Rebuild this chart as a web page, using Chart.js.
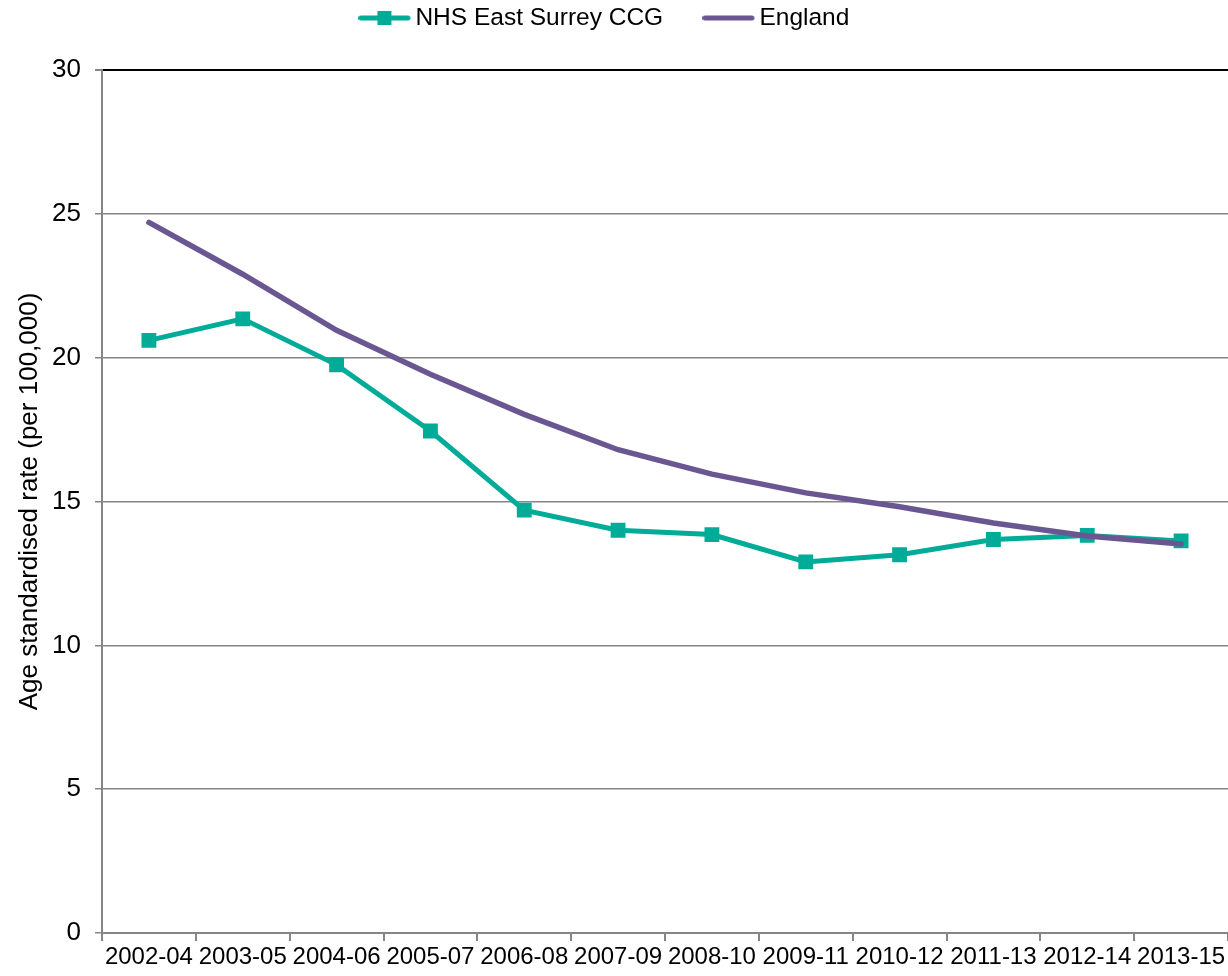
<!DOCTYPE html>
<html>
<head>
<meta charset="utf-8">
<script src="https://cdn.jsdelivr.net/npm/chart.js@4"></script>
<style>
  html, body { margin: 0; padding: 0; background: #fff; }
  #wrap { width: 1228px; height: 976px; }
</style>
</head>
<body>
<div id="wrap"><canvas id="rateChart" width="1228" height="976"></canvas></div>
<script>
// --- Data ---
const periods = ['2002-04', '2003-05', '2004-06', '2005-07', '2006-08', '2007-09',
                 '2008-10', '2009-11', '2010-12', '2011-13', '2012-14', '2013-15'];
const eastSurrey = [20.6, 21.35, 19.75, 17.45, 14.7, 14.0, 13.85, 12.9, 13.15, 13.68, 13.82, 13.63];
const england = [24.7, 22.9, 20.95, 19.42, 18.03, 16.8, 15.95, 15.3, 14.82, 14.25, 13.8, 13.52];
const yTicks = [0, 5, 10, 15, 20, 25, 30];

const TEAL = '#00AC98';
const PURPLE = '#6A5792';
const AXIS_GREY = '#868686';
const FONT = 'Liberation Sans, Arial, sans-serif';

// legend spacing: the wide padding gives the gap between the two entries,
// the negative top padding pulls the legend back up to the top edge
const LEGEND_BOX = 24.5;
const LEGEND_PAD = 59.5;
const TOP_SHIFT = LEGEND_PAD - 5.75;

// --- Legend markers (line, with square for the CCG series) ---
// 65px image drawn centred on the box; marker sits in its left 52px
function legendMarker(color, withSquare) {
    const c = document.createElement('canvas');
    c.width = 65; c.height = 16;
    const ctx = c.getContext('2d');
    ctx.strokeStyle = color;
    ctx.lineWidth = 5;
    ctx.lineCap = 'round';
    ctx.beginPath();
    ctx.moveTo(2.5, 8); ctx.lineTo(49.5, 8);
    ctx.stroke();
    if (withSquare) {
        ctx.fillStyle = color;
        ctx.fillRect(19, 1, 14, 14);
    }
    return c;
}
const markerCcg = legendMarker(TEAL, true);
const markerEng = legendMarker(PURPLE, false);

// --- Fixed legend height so the plot area starts at y=70 ---
const legendHeight = {
    id: 'legendHeight',
    beforeLayout(chart) {
        const lg = chart.legend;
        if (lg && !lg._fixed) {
            const orig = lg.fit;
            lg.fit = function () { orig.call(this); this.height = 70 + TOP_SHIFT; };
            lg._fixed = true;
        }
    }
};

new Chart(document.getElementById('rateChart').getContext('2d'), {
    type: 'line',
    data: {
        labels: periods,
        datasets: [
            {
                label: 'NHS East Surrey CCG',
                data: eastSurrey,
                borderColor: TEAL,
                backgroundColor: TEAL,
                borderWidth: 5,
                pointStyle: 'rect',
                pointRadius: 10.5,
                pointBorderWidth: 0,
                pointBackgroundColor: TEAL,
                tension: 0,
                order: 2
            },
            {
                label: 'England',
                data: england,
                borderColor: PURPLE,
                backgroundColor: PURPLE,
                borderWidth: 5.5,
                borderCapStyle: 'round',
                pointRadius: 0,
                tension: 0,
                order: 1
            }
        ]
    },
    options: {
        responsive: false,
        animation: false,
        layout: { autoPadding: false, padding: { left: 0, right: 0, top: -TOP_SHIFT, bottom: 0 } },
        plugins: {
            tooltip: { enabled: false },
            legend: {
                position: 'top',
                align: 'center',
                labels: {
                    font: { family: FONT, size: 24.5 },
                    color: '#000',
                    usePointStyle: true,
                    pointStyleWidth: LEGEND_BOX,
                    padding: LEGEND_PAD,
                    sort: (a, b) => a.datasetIndex - b.datasetIndex,
                    generateLabels(chart) {
                        return chart.data.datasets.map((ds, i) => ({
                            text: ds.label,
                            datasetIndex: i,
                            pointStyle: i === 0 ? markerCcg : markerEng,
                            fillStyle: ds.borderColor,
                            strokeStyle: ds.borderColor,
                            lineWidth: 0,
                            fontColor: '#000',
                            hidden: false
                        }));
                    }
                }
            }
        },
        scales: {
            x: {
                offset: true,
                grid: {
                    offset: true,
                    drawOnChartArea: false,
                    drawTicks: true,
                    tickLength: 8,
                    color: AXIS_GREY,
                    lineWidth: 2
                },
                border: { color: AXIS_GREY, width: 2 },
                ticks: {
                    font: { family: FONT, size: 24 },
                    color: '#000',
                    maxRotation: 0,
                    autoSkip: false,
                    padding: 2
                },
                afterFit(scale) { scale.height = 43; }
            },
            y: {
                min: 0,
                max: 30,
                afterBuildTicks(scale) { scale.ticks = yTicks.map(v => ({ value: v })); },
                grid: {
                    color: ctx => (ctx.tick && ctx.tick.value === 30) ? '#000' : AXIS_GREY,
                    lineWidth: ctx => (ctx.tick && ctx.tick.value === 30) ? 2 : 1.5,
                    tickLength: 7,
                    tickColor: AXIS_GREY
                },
                border: { color: AXIS_GREY, width: 2 },
                ticks: {
                    font: { family: FONT, size: 26 },
                    color: '#000',
                    padding: 14
                },
                title: {
                    display: true,
                    text: 'Age standardised rate (per 100,000)',
                    font: { family: FONT, size: 26 },
                    color: '#000',
                    padding: { top: 14, bottom: 0 }
                },
                afterFit(scale) { scale.width = 102; }
            }
        }
    },
    plugins: [legendHeight]
});
</script>
</body>
</html>
